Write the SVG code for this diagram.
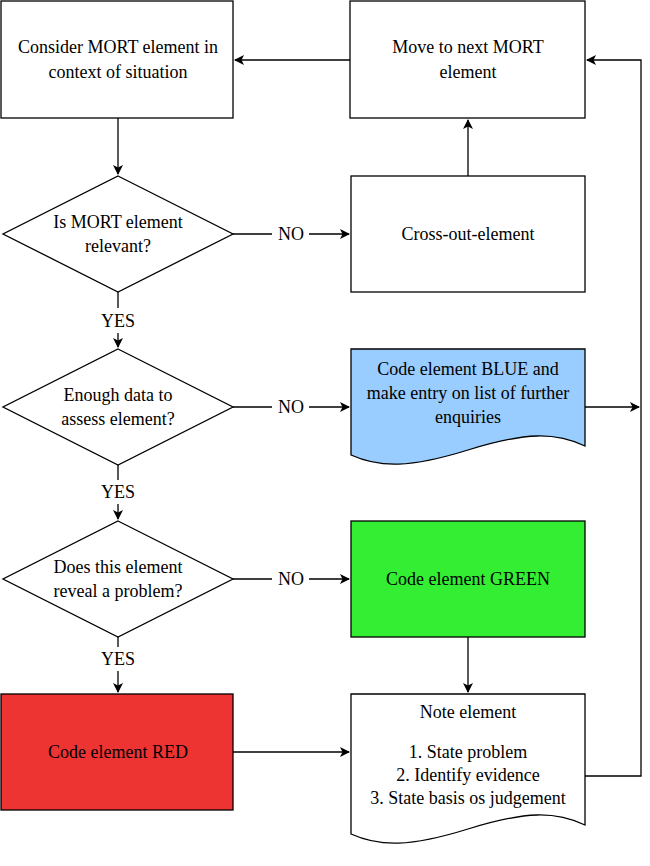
<svg xmlns="http://www.w3.org/2000/svg" width="650" height="866" viewBox="0 0 650 866" font-family="Liberation Serif, Times New Roman, DejaVu Serif, serif" font-size="18">
<defs>
<marker id="ah" markerWidth="10" markerHeight="10" refX="9" refY="5" orient="auto" markerUnits="userSpaceOnUse"><path d="M0,0 L10,5 L0,10 L2.5,5 Z" fill="#000"/></marker>
<style>
.s{stroke:#000;stroke-width:1.3;fill:#fff}
.c{stroke:#000;stroke-width:1.3;fill:none}
text{fill:#000;text-anchor:middle}
</style>
</defs>
<rect width="650" height="866" fill="#fff"/>
<g id="connectors">
<path class="c" d="M350,60 H235" marker-end="url(#ah)"/>
<path class="c" d="M118,118 V174" marker-end="url(#ah)"/>
<path class="c" d="M233,234 H272 M309,234 H349" marker-end="url(#ah)"/>
<path class="c" d="M468,176 V120" marker-end="url(#ah)"/>
<path class="c" d="M118,292 V308 M118,333 V347" marker-end="url(#ah)"/>
<path class="c" d="M233,407 H272 M309,407 H349" marker-end="url(#ah)"/>
<path class="c" d="M118,465 V480 M118,504 V519" marker-end="url(#ah)"/>
<path class="c" d="M233,579 H272 M309,579 H349" marker-end="url(#ah)"/>
<path class="c" d="M118,637 V647 M118,671 V692" marker-end="url(#ah)"/>
<path class="c" d="M468,637 V692" marker-end="url(#ah)"/>
<path class="c" d="M233,752 H349" marker-end="url(#ah)"/>
<path class="c" d="M585,407 H639" marker-end="url(#ah)"/>
<path class="c" d="M585,776 H641 V60 H587" marker-end="url(#ah)"/>
<text x="291" y="240">NO</text>
<text x="291" y="413">NO</text>
<text x="291" y="585">NO</text>
<text x="118" y="327">YES</text>
<text x="118" y="498">YES</text>
<text x="118" y="665">YES</text>
</g>
<g id="consider"><rect class="s" x="1" y="1" width="232" height="117"/><text x="118" y="53">Consider MORT element in</text><text x="118" y="78">context of situation</text></g>
<g id="move"><rect class="s" x="350" y="1" width="235" height="117"/><text x="468" y="53">Move to next MORT</text><text x="468" y="78">element</text></g>
<g id="d1"><polygon class="s" points="118,176 233,234 118,292 3,234"/><text x="118" y="228">Is MORT element</text><text x="118" y="252">relevant?</text></g>
<g id="cross"><rect class="s" x="351" y="176" width="234" height="116"/><text x="468" y="240">Cross-out-element</text></g>
<g id="d2"><polygon class="s" points="118,349 233,407 118,465 3,407"/><text x="118" y="401">Enough data to</text><text x="118" y="425">assess element?</text></g>
<g id="blue"><path class="s" style="fill:#99ccff" d="M351,349 H585 V446 C555,432 526,432 468,450 C410,468 380,468 351,455 Z"/><text x="468" y="375">Code element BLUE and</text><text x="468" y="399">make entry on list of further</text><text x="468" y="423">enquiries</text></g>
<g id="d3"><polygon class="s" points="118,521 233,579 118,637 3,579"/><text x="118" y="573">Does this element</text><text x="118" y="597">reveal a problem?</text></g>
<g id="green"><rect class="s" style="fill:#33ee33" x="351" y="521" width="234" height="116"/><text x="468" y="585">Code element GREEN</text></g>
<g id="red"><rect class="s" style="fill:#ee3333" x="1" y="694" width="232" height="116"/><text x="118" y="758">Code element RED</text></g>
<g id="note"><path class="s" d="M351,694 H585 V825 C555,811 526,811 468,829 C410,847 380,847 351,834 Z"/><text x="468" y="718">Note element</text><text x="468" y="758">1. State problem</text><text x="468" y="781">2. Identify evidence</text><text x="468" y="804">3. State basis os judgement</text></g>
</svg>
